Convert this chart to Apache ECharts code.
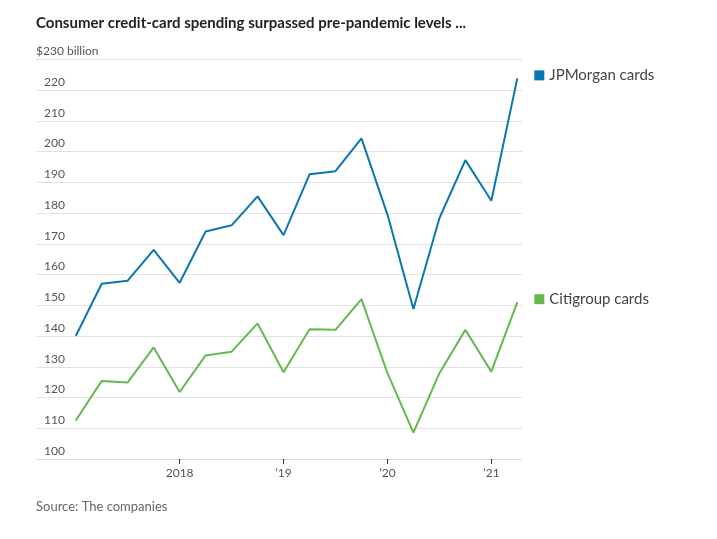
<!DOCTYPE html>
<html>
<head>
<meta charset="utf-8">
<script src="https://cdn.jsdelivr.net/npm/echarts@6/dist/echarts.min.js"></script>
<style>
html,body{margin:0;padding:0;background:#fff;}
#chart{width:717px;height:539px;}
</style>
</head>
<body>
<div id="chart"></div>
<script>
// Quarterly data, Q1 2017 .. Q2 2021 (quarter index 0..17)
const quarters = [0,1,2,3,4,5,6,7,8,9,10,11,12,13,14,15,16,17];
const jpmorgan = [140, 157, 158, 168, 157.3, 174, 176, 185.4, 172.8, 192.6, 193.6, 204.3, 179.5, 148.8, 178.3, 197.2, 184, 223.8];
const citigroup = [112.5, 125.4, 124.9, 136.3, 121.8, 133.7, 134.9, 144.1, 128.2, 142.2, 142, 152, 127.9, 108.6, 127.9, 142, 128.4, 151];
const xTickValues = [4, 8, 12, 16];
const xTickLabels = ['2018', '\u201919', '\u201920', '\u201921'];
const yMin = 100, yMax = 230, yStep = 10;
const seriesNames = ['JPMorgan cards', 'Citigroup cards'];
const colors = ['#0a77b1', '#62b94f'];

const FONT = 'Lato, "Noto Sans", sans-serif';
const chart = echarts.init(document.getElementById('chart'), null, {renderer: 'canvas'});

function mkSeries(name, vals, color) {
  return {
    name: name,
    type: 'line',
    data: quarters.map((q, i) => [q, vals[i]]),
    symbol: 'none',
    lineStyle: {color: color, width: 2},
    itemStyle: {color: color},
    animation: false,
    endLabel: {
      show: true,
      distance: 17,
      offset: [0, -3],
      formatter: '{sq|}{t|' + name + '}',
      rich: {
        sq: {width: 10, height: 10, backgroundColor: color},
        t: {fontFamily: FONT, fontSize: 15, color: '#444', padding: [0, 0, 0, 5]}
      }
    }
  };
}

chart.setOption({
  backgroundColor: '#fff',
  animation: false,
  graphic: [{
    type: 'text',
    left: 36,
    top: 16,
    style: {text: 'Consumer credit-card spending surpassed pre-pandemic levels ...', font: 'bold 15px ' + FONT, fill: '#222'}
  }, {
    type: 'text',
    left: 36,
    top: 45,
    style: {text: '$230 billion', font: '12px ' + FONT, fill: '#555'}
  }, {
    type: 'text',
    left: 36,
    top: 500,
    style: {text: 'Source: The companies', font: '13px ' + FONT, fill: '#666'}
  }],
  grid: {left: 36, right: 195, top: 59.3, bottom: 80, containLabel: false},
  xAxis: {
    type: 'value',
    min: -1.53,
    max: 17.18,
    axisLine: {show: true, lineStyle: {color: '#ddd', width: 1}},
    axisTick: {show: true, customValues: xTickValues, length: 5, inside: false, lineStyle: {color: '#333'}},
    axisLabel: {
      customValues: xTickValues,
      margin: 8,
      fontFamily: FONT, fontSize: 12, color: '#555',
      formatter: v => { const i = xTickValues.indexOf(v); return i >= 0 ? xTickLabels[i] : ''; }
    },
    splitLine: {show: false}
  },
  yAxis: {
    type: 'value',
    min: yMin,
    max: yMax,
    interval: yStep,
    axisLine: {show: false},
    axisTick: {show: false},
    axisLabel: {
      inside: true,
      margin: 8,
      verticalAlign: 'bottom',
      padding: [0, 0, 2, 0],
      fontFamily: FONT, fontSize: 12, color: '#555',
      formatter: v => (v === yMax ? '' : String(v))
    },
    splitLine: {lineStyle: {color: '#e2e2e2', width: 1}}
  },
  series: [
    mkSeries(seriesNames[0], jpmorgan, colors[0]),
    mkSeries(seriesNames[1], citigroup, colors[1])
  ]
});
</script>
</body>
</html>
